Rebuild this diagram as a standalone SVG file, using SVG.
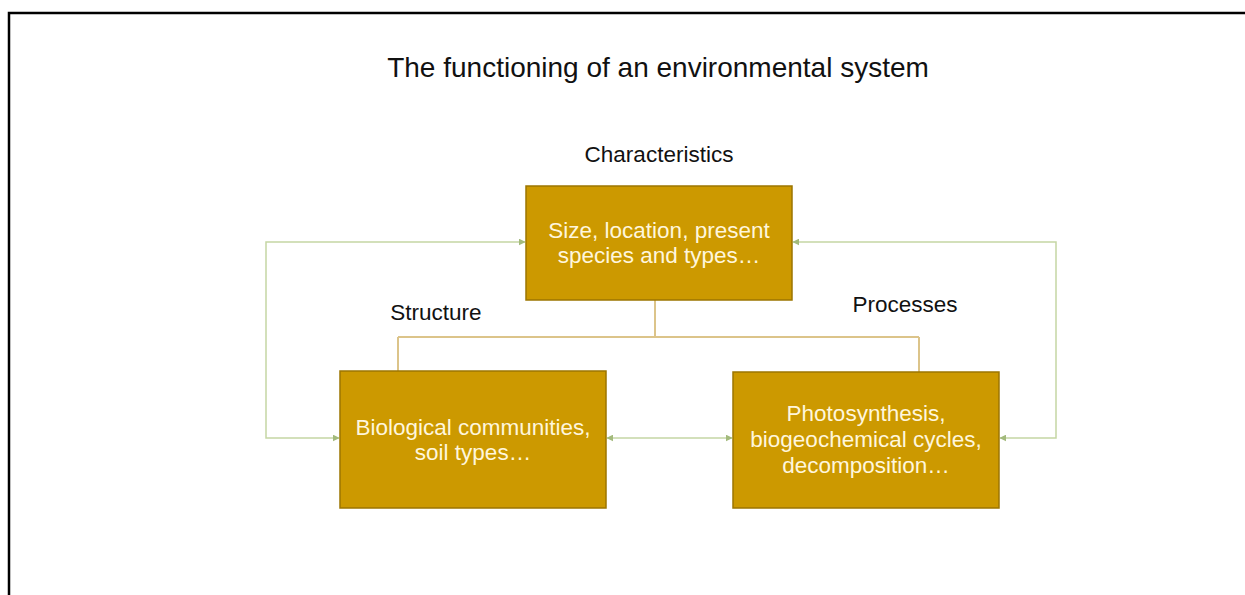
<svg xmlns="http://www.w3.org/2000/svg" width="1245" height="595" viewBox="0 0 1245 595">
<defs>
<style>
.lbl{font-family:"Liberation Sans",Arial,sans-serif;fill:#111;text-anchor:middle}
.box{fill:#cc9900;stroke:#9c7500;stroke-width:1.5}
.bt{font-family:"Liberation Sans",Arial,sans-serif;font-size:22.5px;fill:#fff6dc;text-anchor:middle}
.tree{fill:none;stroke:#dcc48a;stroke-width:2}
.link{fill:none;stroke:#c5d6a4;stroke-width:1.5;marker-start:url(#ah);marker-end:url(#ah)}
</style>
<marker id="ah" viewBox="0 0 10 10" refX="9" refY="5" markerWidth="7" markerHeight="7" markerUnits="userSpaceOnUse" orient="auto-start-reverse">
<path d="M0,0 L10,5 L0,10 z" fill="#a3ba7c"/>
</marker>
</defs>
<rect width="1245" height="595" fill="#fff"/>
<path d="M9,595 V13 H1245" fill="none" stroke="#000" stroke-width="2.5"/>
<text class="lbl" x="658" y="77" font-size="28">The functioning of an environmental system</text>
<text class="lbl" x="659" y="162" font-size="22.5">Characteristics</text>
<text class="lbl" x="436" y="320" font-size="22.5">Structure</text>
<text class="lbl" x="905" y="312" font-size="22.5">Processes</text>
<g id="connectors">
<path class="tree" d="M655,300 V337 M398,337 H919 M398,337 V371 M919,337 V372"/>
<path class="link" d="M339,438 H266 V242 H525"/>
<path class="link" d="M793,242 H1056 V438 H1000"/>
<path class="link" d="M607,438 H732"/>
</g>
<g id="characteristics">
<rect class="box" x="526" y="186" width="266" height="114"/>
<text class="bt" x="659" y="238">Size, location, present</text>
<text class="bt" x="659" y="263">species and types…</text>
</g>
<g id="structure">
<rect class="box" x="340" y="371" width="266" height="137"/>
<text class="bt" x="473" y="435">Biological communities,</text>
<text class="bt" x="473" y="460">soil types…</text>
</g>
<g id="processes">
<rect class="box" x="733" y="372" width="266" height="136"/>
<text class="bt" x="866" y="421">Photosynthesis,</text>
<text class="bt" x="866" y="447">biogeochemical cycles,</text>
<text class="bt" x="866" y="473">decomposition…</text>
</g>
</svg>
